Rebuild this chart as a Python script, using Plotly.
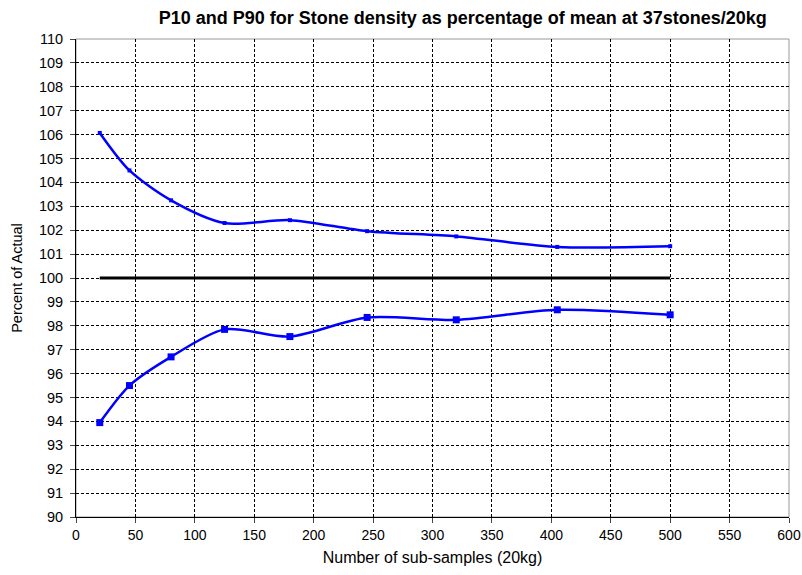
"""P10 and P90 stone density as percentage of mean."""

import plotly.graph_objects as go

# sub-sample counts (x) shared by both curves
samples = [20, 45, 80, 125, 180, 245, 320, 405, 500]
p90 = [106.07, 104.5, 103.25, 102.3, 102.42, 101.96, 101.74, 101.3, 101.33]
p10 = [93.95, 95.5, 96.7, 97.85, 97.55, 98.35, 98.25, 98.67, 98.46]
mean_x = [20, 500]
mean_y = [100, 100]

x_ticks = list(range(0, 601, 50))
y_ticks = list(range(90, 111, 1))

FONT = "Liberation Sans, Arial, sans-serif"


def main():
    fig = go.Figure()

    fig.add_trace(go.Scatter(
        x=mean_x, y=mean_y, mode="lines",
        line=dict(color="black", width=3),
        showlegend=False,
    ))
    fig.add_trace(go.Scatter(
        x=samples, y=p90, mode="lines+markers",
        line=dict(color="#0000FF", width=2.5, shape="spline", smoothing=0.8),
        marker=dict(symbol="square", size=4, color="#0000FF"),
        showlegend=False,
    ))
    fig.add_trace(go.Scatter(
        x=samples, y=p10, mode="lines+markers",
        line=dict(color="#0000FF", width=2.5, shape="spline", smoothing=0.8),
        marker=dict(symbol="square", size=7, color="#0000FF"),
        showlegend=False,
    ))

    grid = dict(showgrid=True, gridcolor="black", gridwidth=1, griddash="3px,2px")

    fig.update_layout(
        width=802, height=575,
        margin=dict(l=76, r=13, t=39, b=58),
        paper_bgcolor="white", plot_bgcolor="white",
        font=dict(family=FONT, size=14, color="black"),
        title=dict(
            text="<b>P10 and P90 for Stone density as percentage of mean at 37stones/20kg</b>",
            x=0.577, xanchor="center", y=0.969, yanchor="middle",
            font=dict(family=FONT, size=18, color="black"),
        ),
        xaxis=dict(
            range=[0, 600], tickvals=x_ticks, ticks="outside", ticklen=5,
            tickfont=dict(size=14),
            showline=True, linecolor="black", linewidth=1,
            zeroline=False, automargin=False,
            title=dict(text="Number of sub-samples (20kg)", standoff=10,
                       font=dict(size=16)),
            **grid,
        ),
        yaxis=dict(
            range=[90, 110], tickvals=y_ticks, ticks="outside", ticklen=5,
            tickfont=dict(size=14.5), ticklabelstandoff=4,
            showline=True, linecolor="black", linewidth=1,
            zeroline=False, automargin=False,
            title=dict(text="Percent of Actual", standoff=12,
                       font=dict(size=14.5)),
            **grid,
        ),
        shapes=[dict(
            type="rect", xref="paper", yref="paper", x0=0, x1=1, y0=0, y1=1,
            line=dict(color="#999999", width=1), layer="below",
        )],
    )

    # drop the default page margin so the figure fills the window
    fig.write_html(
        "out.html",
        config={"displayModeBar": False},
        post_script="document.body.style.margin='0';",
    )


if __name__ == "__main__":
    main()
